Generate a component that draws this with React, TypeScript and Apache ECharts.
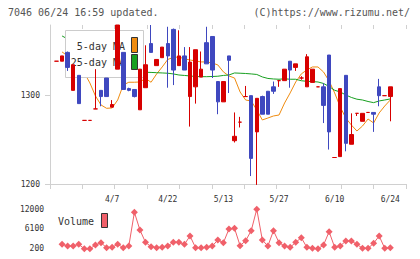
import React, { useEffect, useRef } from "react";
import * as echarts from "echarts";

const dates = [
  "3/24", "3/25", "3/26", "3/27", "3/28", "3/31", "4/1", "4/2", "4/3", "4/4",
  "4/7", "4/8", "4/9", "4/10", "4/11", "4/14", "4/15", "4/16", "4/17", "4/18",
  "4/22", "4/23", "4/24", "4/25", "4/28", "4/30", "5/1", "5/2", "5/7", "5/8",
  "5/13", "5/14", "5/15", "5/16", "5/19", "5/20", "5/21", "5/22", "5/23", "5/26",
  "5/27", "5/28", "5/29", "5/30", "6/2", "6/3", "6/4", "6/5", "6/6", "6/9",
  "6/10", "6/11", "6/12", "6/13", "6/16", "6/17", "6/18", "6/19", "6/20", "6/23",
  "6/24",
];

const opens = [
  1339, 1339, 1349, 1306, 1323, 1272, 1272, 1285, 1306, 1320,
  1287, 1330, 1349, 1308, 1307, 1284, 1309, 1359, 1334, 1343,
  1359, 1375, 1334, 1345, 1299, 1310, 1321, 1360, 1367, 1316,
  1293, 1345, 1249, 1270, 1299, 1300, 1259, 1299, 1305, 1310,
  1317, 1317, 1339, 1332, 1320, 1310, 1315, 1310, 1310, 1346,
  1230, 1231, 1323, 1245, 1280, 1271, 1281, 1281, 1310, 1300,
  1299,
];
const closes = [
  1339, 1345, 1332, 1335, 1291, 1272, 1272, 1285, 1299, 1299,
  1290, 1380, 1307, 1306, 1299, 1330, 1335, 1349, 1341, 1355,
  1345, 1329, 1345, 1329, 1338, 1352, 1330, 1336, 1329, 1293,
  1316, 1340, 1254, 1270, 1299, 1229, 1297, 1279, 1279, 1305,
  1317, 1330, 1329, 1336, 1320, 1344, 1330, 1310, 1289, 1259,
  1230, 1308, 1246, 1256, 1280, 1280, 1281, 1279, 1300, 1300,
  1310,
];
const lows = [
  1339, 1339, 1328, 1306, 1291, 1272, 1272, 1285, 1288, 1299,
  1287, 1330, 1307, 1305, 1298, 1284, 1309, 1349, 1334, 1343,
  1309, 1312, 1334, 1329, 1265, 1291, 1321, 1336, 1320, 1279,
  1293, 1303, 1247, 1264, 1299, 1209, 1199, 1279, 1279, 1302,
  1310, 1317, 1309, 1328, 1318, 1310, 1315, 1310, 1269, 1239,
  1230, 1231, 1237, 1245, 1277, 1271, 1281, 1259, 1288, 1300,
  1271,
];
const highs = [
  1339, 1345, 1350, 1335, 1323, 1272, 1272, 1330, 1306, 1320,
  1295, 1380, 1349, 1309, 1307, 1330, 1357, 1380, 1341, 1355,
  1378, 1376, 1374, 1355, 1355, 1352, 1350, 1378, 1367, 1316,
  1316, 1345, 1281, 1276, 1311, 1300, 1297, 1300, 1305, 1316,
  1317, 1330, 1339, 1336, 1322, 1347, 1330, 1310, 1314, 1346,
  1230, 1308, 1323, 1280, 1280, 1280, 1281, 1281, 1319, 1300,
  1310,
];

const ma5 = [
  null, 1349.5, 1345.0, 1340.4, 1333.6, 1325.7, 1314.4, 1299.7, 1289.5, 1285.7,
  1286.1, 1295.1, 1312.1, 1315.2, 1315.2, 1315.5, 1319.5, 1315.2, 1324.6, 1332.5,
  1341.0, 1343.3, 1343.8, 1341.6, 1340.4, 1339.3, 1338.2, 1338.2, 1337.0, 1334.8,
  1326.9, 1322.3, 1320.0, 1304.2, 1295.1, 1294.0, 1283.8, 1272.5, 1274.7, 1277.0,
  1278.1, 1291.7, 1303.1, 1315.5, 1324.6, 1329.1, 1332.5, 1332.5, 1326.8, 1316.6,
  1303.1, 1287.2, 1274.7, 1266.8, 1260.0, 1265.6, 1273.6, 1269.1, 1280.4, 1288.3,
  1295.1,
];
const ma25 = [
  null, 1367.6, 1364.2, 1360.8, 1356.3, 1351.8, 1347.2, 1342.7, 1338.2, 1334.8,
  1332.5, 1331.4, 1330.2, 1329.1, 1328.0, 1327.2, 1326.5, 1326.3, 1326.0, 1325.7,
  1325.4, 1324.6, 1323.4, 1322.9, 1322.3, 1321.7, 1321.5, 1321.5, 1321.7, 1322.0,
  1322.9, 1323.4, 1325.7, 1325.4, 1325.1, 1324.6, 1324.0, 1321.2, 1319.5, 1318.9,
  1318.6, 1319.1, 1318.6, 1318.6, 1316.9, 1316.3, 1315.9, 1315.5, 1313.8, 1310.4,
  1306.1, 1304.2, 1300.8, 1298.0, 1296.0, 1295.1, 1293.4, 1292.1, 1294.0, 1295.1,
  1296.3,
];

const volumes = [
  null, 1460, 950, 950, 1460, 100, 100, 1250, 1940, 440,
  560, 1460, 440, 950, 11070, 5750, 2060, 740, 440, 560,
  950, 2060, 2060, 1460, 3950, 440, 440, 560, 950, 2750,
  1940, 6050, 6260, 1040, 2540, 5540, 12000, 2750, 950, 5540,
  1940, 950, 560, 2060, 3440, 560, 260, 100, 1250, 5240,
  560, 950, 2450, 2450, 1460, 260, 260, 1760, 3950, 260,
  440,
];

const priceTicks = [1200, 1300];
const volumeTicks = [200, 6100, 12000];
const legendLabels = ["5-day MA", "25-day MA"];
const titleText = "7046 06/24 16:59 updated.";
const creditText = "(C)https://www.rizumu.net/";

const UP = "#d70000";
const DOWN = "#3f48bf";
const MA5C = "#f08c10";
const MA25C = "#18a020";
const VOLC = "#f0606a";
const FONT = "'DejaVu Sans Mono', monospace";

export default function App() {
  const ref = useRef<HTMLDivElement>(null);

  useEffect(() => {
    if (!ref.current) return;
    const chart = echarts.init(ref.current, null, { renderer: "svg" });

    const candleData = opens.map((o, i) => {
      const item: any = { value: [o, closes[i], lows[i], highs[i]] };
      if (o === closes[i]) {
        item.itemStyle = { color: UP, color0: UP, borderColor: UP, borderColor0: UP };
      }
      return item;
    });

    const axisLabelStyle = {
      fontFamily: FONT,
      fontSize: 8,
      color: "#333",
      formatter: (v: any) => String(v),
    };

    const option: any = {
      animation: false,
      grid: [
        { left: 53.72, width: 339.36, top: 25, height: 159 },
        { left: 50, width: 356, top: 25, height: 159 },
        { left: 53.72, width: 339.36, top: 209.2, height: 39.3 },
      ],
      xAxis: [
        {
          type: "category",
          gridIndex: 0,
          data: dates,
          boundaryGap: true,
          axisLine: { show: false },
          axisTick: { show: false },
          splitLine: { show: false },
          axisLabel: {
            ...axisLabelStyle,
            margin: 11,
            interval: (i: number) => i % 10 === 0 && i > 0,
          },
        },
        {
          type: "value",
          gridIndex: 1,
          min: 0,
          max: 11,
          interval: 1,
          axisLine: { show: true, lineStyle: { color: "#d0d0d0", width: 1 } },
          axisTick: { show: true, length: 5, lineStyle: { color: "#d0d0d0" } },
          axisLabel: { show: false },
          splitLine: { show: false },
        },
        {
          type: "value",
          gridIndex: 1,
          min: 0,
          max: 11,
          interval: 1,
          axisLine: { show: false },
          axisTick: { show: true, inside: true, length: 4, lineStyle: { color: "#d0d0d0" } },
          axisLabel: { show: false },
          splitLine: { show: false },
        },
        {
          type: "category",
          gridIndex: 2,
          data: dates,
          boundaryGap: true,
          show: false,
        },
      ],
      yAxis: [
        { type: "value", gridIndex: 0, min: 1200, max: 1380, show: false, splitLine: { show: false } },
        {
          type: "value",
          gridIndex: 1,
          min: 1200,
          max: 1380,
          axisLine: { show: true, lineStyle: { color: "#d0d0d0", width: 1 } },
          axisTick: { show: true, length: 5, customValues: priceTicks, lineStyle: { color: "#d0d0d0" } },
          axisLabel: { ...axisLabelStyle, margin: 10, customValues: priceTicks },
          splitLine: { show: false },
        },
        {
          type: "value",
          gridIndex: 1,
          min: 1200,
          max: 1380,
          axisLine: { show: false },
          axisTick: { show: true, inside: true, length: 4, customValues: priceTicks, lineStyle: { color: "#d0d0d0" } },
          axisLabel: { show: false },
          splitLine: { show: false },
        },
        {
          type: "value",
          gridIndex: 2,
          min: 200,
          max: 12000,
          axisLine: { show: false },
          axisTick: { show: false },
          axisLabel: { ...axisLabelStyle, margin: 9.7, customValues: volumeTicks },
          splitLine: { show: false },
        },
      ],
      series: [
        {
          type: "line",
          name: legendLabels[0],
          xAxisIndex: 0,
          yAxisIndex: 0,
          data: ma5,
          symbol: "none",
          lineStyle: { color: MA5C, width: 1 },
          z: 1,
          clip: false,
        },
        {
          type: "line",
          name: legendLabels[1],
          xAxisIndex: 0,
          yAxisIndex: 0,
          data: ma25,
          symbol: "none",
          lineStyle: { color: MA25C, width: 1 },
          z: 1,
          clip: false,
        },
        {
          type: "candlestick",
          xAxisIndex: 0,
          yAxisIndex: 0,
          data: candleData,
          barWidth: 4,
          clip: false,
          z: 5,
          itemStyle: {
            color: UP,
            color0: DOWN,
            borderColor: UP,
            borderColor0: DOWN,
            borderWidth: 1,
          },
        },
        {
          type: "line",
          name: "Volume",
          xAxisIndex: 3,
          yAxisIndex: 3,
          data: volumes,
          symbol: "diamond",
          symbolSize: 7,
          showSymbol: true,
          showAllSymbol: true,
          lineStyle: { color: VOLC, width: 1 },
          itemStyle: { color: VOLC },
          clip: false,
          z: 2,
        },
      ],
      graphic: [
        {
          type: "text",
          x: 8,
          y: 12,
          z: 10,
          style: { text: titleText, fill: "#555", font: `10px ${FONT}`, verticalAlign: "middle" },
        },
        {
          type: "text",
          x: 410,
          y: 12,
          z: 10,
          style: { text: creditText, fill: "#555", font: `10px ${FONT}`, align: "right", verticalAlign: "middle" },
        },
        {
          type: "rect",
          z: 3,
          shape: { x: 65.5, y: 30.5, width: 78, height: 47 },
          style: { fill: "#fff", stroke: "#cccccc", lineWidth: 1 },
        },
        {
          type: "text",
          x: 125,
          y: 46,
          z: 3,
          style: { text: legendLabels[0], fill: "#333", font: `10px ${FONT}`, align: "right", verticalAlign: "middle" },
        },
        {
          type: "text",
          x: 125,
          y: 62.5,
          z: 3,
          style: { text: legendLabels[1], fill: "#333", font: `10px ${FONT}`, align: "right", verticalAlign: "middle" },
        },
        {
          type: "rect",
          z: 3,
          shape: { x: 131.5, y: 37.5, width: 6, height: 15 },
          style: { fill: MA5C, stroke: "#333", lineWidth: 1 },
        },
        {
          type: "rect",
          z: 3,
          shape: { x: 131.5, y: 54.5, width: 6, height: 15 },
          style: { fill: MA25C, stroke: "#333", lineWidth: 1 },
        },
        {
          type: "text",
          x: 58,
          y: 221.5,
          z: 10,
          style: { text: "Volume", fill: "#333", font: `10px ${FONT}`, verticalAlign: "middle" },
        },
        {
          type: "rect",
          z: 10,
          shape: { x: 101.5, y: 213.5, width: 6, height: 14 },
          style: { fill: VOLC, stroke: "#333", lineWidth: 1 },
        },
      ],
    };

    chart.setOption(option);
    return () => chart.dispose();
  }, []);

  return (
    <div
      ref={ref}
      style={{ position: "fixed", left: 0, top: 0, width: 420, height: 259, background: "#fff" }}
    />
  );
}
